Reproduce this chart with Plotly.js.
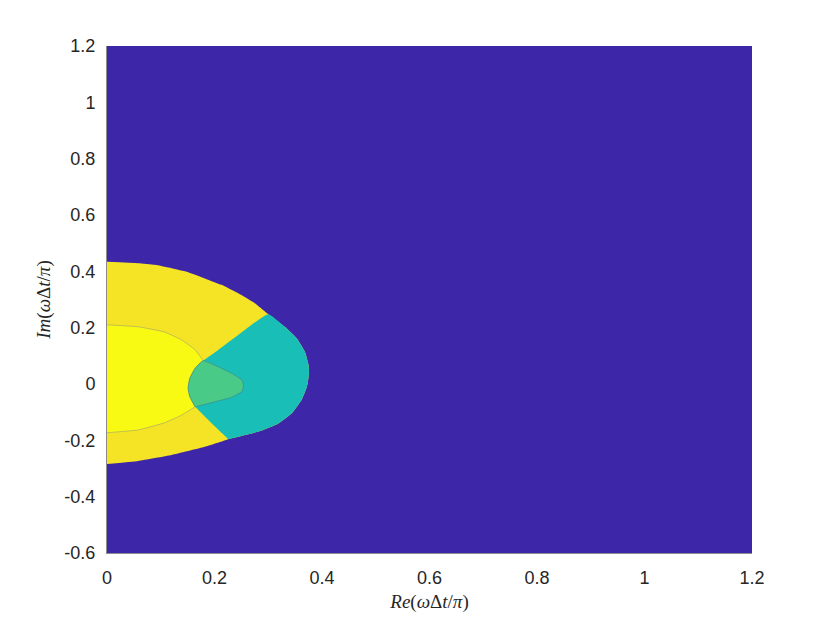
<!DOCTYPE html>
<html>
<head>
<meta charset="utf-8">
<script src="https://cdn.plot.ly/plotly-3.0.1.min.js"></script>
<style>
  html, body { margin: 0; padding: 0; background: #fff; }
  #chart { width: 830px; height: 624px; }
</style>
</head>
<body>
<div id="chart"></div>
<script>
// Region boundaries (Re, Im of ωΔt/π).
const outerTopX = [0, 0.058, 0.089, 0.120, 0.151, 0.182, 0.213, 0.244, 0.275, 0.300];
const outerTopY = [0.434, 0.429, 0.423, 0.411, 0.397, 0.375, 0.352, 0.322, 0.287, 0.248];
const tealArcX = [0.300, 0.331, 0.353, 0.368, 0.375, 0.376, 0.372, 0.362, 0.344, 0.319, 0.282, 0.226];
const tealArcY = [0.248, 0.203, 0.162, 0.115, 0.067, 0.038, -0.010, -0.057, -0.104, -0.140, -0.169, -0.196];
const outerBotX = [0.226, 0.182, 0.120, 0.058, 0];
const outerBotY = [-0.196, -0.223, -0.252, -0.273, -0.284];

const upperDivX = [0.300, 0.244, 0.207, 0.179];
const upperDivY = [0.248, 0.174, 0.121, 0.083];
const lowerDivX = [0.164, 0.195, 0.226];
const lowerDivY = [-0.081, -0.140, -0.196];

const innerTopX = [0, 0.058, 0.108, 0.139, 0.164, 0.179];
const innerTopY = [0.210, 0.203, 0.184, 0.156, 0.121, 0.083];
const greenLeftX = [0.179, 0.164, 0.154, 0.151, 0.154, 0.164];
const greenLeftY = [0.083, 0.056, 0.020, -0.015, -0.045, -0.081];
const innerBotX = [0.164, 0.139, 0.108, 0.058, 0];
const innerBotY = [-0.081, -0.110, -0.137, -0.163, -0.173];
const greenRightX = [0.179, 0.207, 0.232, 0.251, 0.254, 0.251, 0.232, 0.201, 0.164];
const greenRightY = [0.083, 0.061, 0.038, 0.014, -0.004, -0.027, -0.047, -0.063, -0.081];

const COLORS = { bg: "#3e26a8", outer: "#f5e325", teal: "#19bfb6", inner: "#f9fa14", green: "#49ca86" };

const rev = a => a.slice().reverse();

function region(x, y, color, edge) {
  return {
    x, y, type: "scatter", mode: "lines", fill: "toself", fillcolor: color,
    line: { width: edge ? 0.6 : 0, color: edge || color, shape: "spline", smoothing: 0.4 },
    hoverinfo: "skip", showlegend: false,
  };
}

const traces = [
  // whole stable lobe (outer yellow)
  region([...outerTopX, ...tealArcX, ...outerBotX], [...outerTopY, ...tealArcY, ...outerBotY], COLORS.outer),
  // teal band on the right
  region([...tealArcX, ...rev(lowerDivX), ...rev(greenLeftX), ...rev(upperDivX)],
         [...tealArcY, ...rev(lowerDivY), ...rev(greenLeftY), ...rev(upperDivY)], COLORS.teal),
  // bright inner core
  region([...innerTopX, ...greenLeftX, ...innerBotX], [...innerTopY, ...greenLeftY, ...innerBotY], COLORS.inner, "#a09f70"),
  // green tongue
  region([...greenLeftX, ...rev(greenRightX)], [...greenLeftY, ...rev(greenRightY)], COLORS.green, "#3f7f8a"),
];

const tickFont = { family: "Liberation Sans, Arial, sans-serif", size: 18, color: "#262626" };
const titleFont = { family: "Liberation Serif, DejaVu Serif, serif", size: 19, color: "#262626" };

const layout = {
  width: 830, height: 624,
  margin: { l: 107, r: 78, t: 46, b: 71 },
  paper_bgcolor: "#fff", plot_bgcolor: COLORS.bg,
  xaxis: {
    range: [0, 1.2], tickvals: [0, 0.2, 0.4, 0.6, 0.8, 1, 1.2],
    ticktext: ["0", "0.2", "0.4", "0.6", "0.8", "1", "1.2"],
    showgrid: false, zeroline: false, showline: true, linecolor: "#8c8c8c", linewidth: 1,
    ticks: "", ticklabelstandoff: 8, tickfont: tickFont,
    title: { text: "<i>Re</i>(<i>ω</i>Δ<i>t</i>/<i>π</i>)", font: titleFont, standoff: 8 },
  },
  yaxis: {
    range: [-0.6, 1.2], tickvals: [-0.6, -0.4, -0.2, 0, 0.2, 0.4, 0.6, 0.8, 1, 1.2],
    ticktext: ["-0.6", "-0.4", "-0.2", "0", "0.2", "0.4", "0.6", "0.8", "1", "1.2"],
    showgrid: false, zeroline: false, showline: true, linecolor: "#8c8c8c", linewidth: 1,
    ticks: "", ticklabelstandoff: 7, tickfont: tickFont,
    title: { text: "<i>Im</i>(<i>ω</i>Δ<i>t</i>/<i>π</i>)", font: titleFont, standoff: 8 },
  },
};

Plotly.newPlot("chart", traces, layout, { staticPlot: true, displayModeBar: false });
</script>
</body>
</html>
